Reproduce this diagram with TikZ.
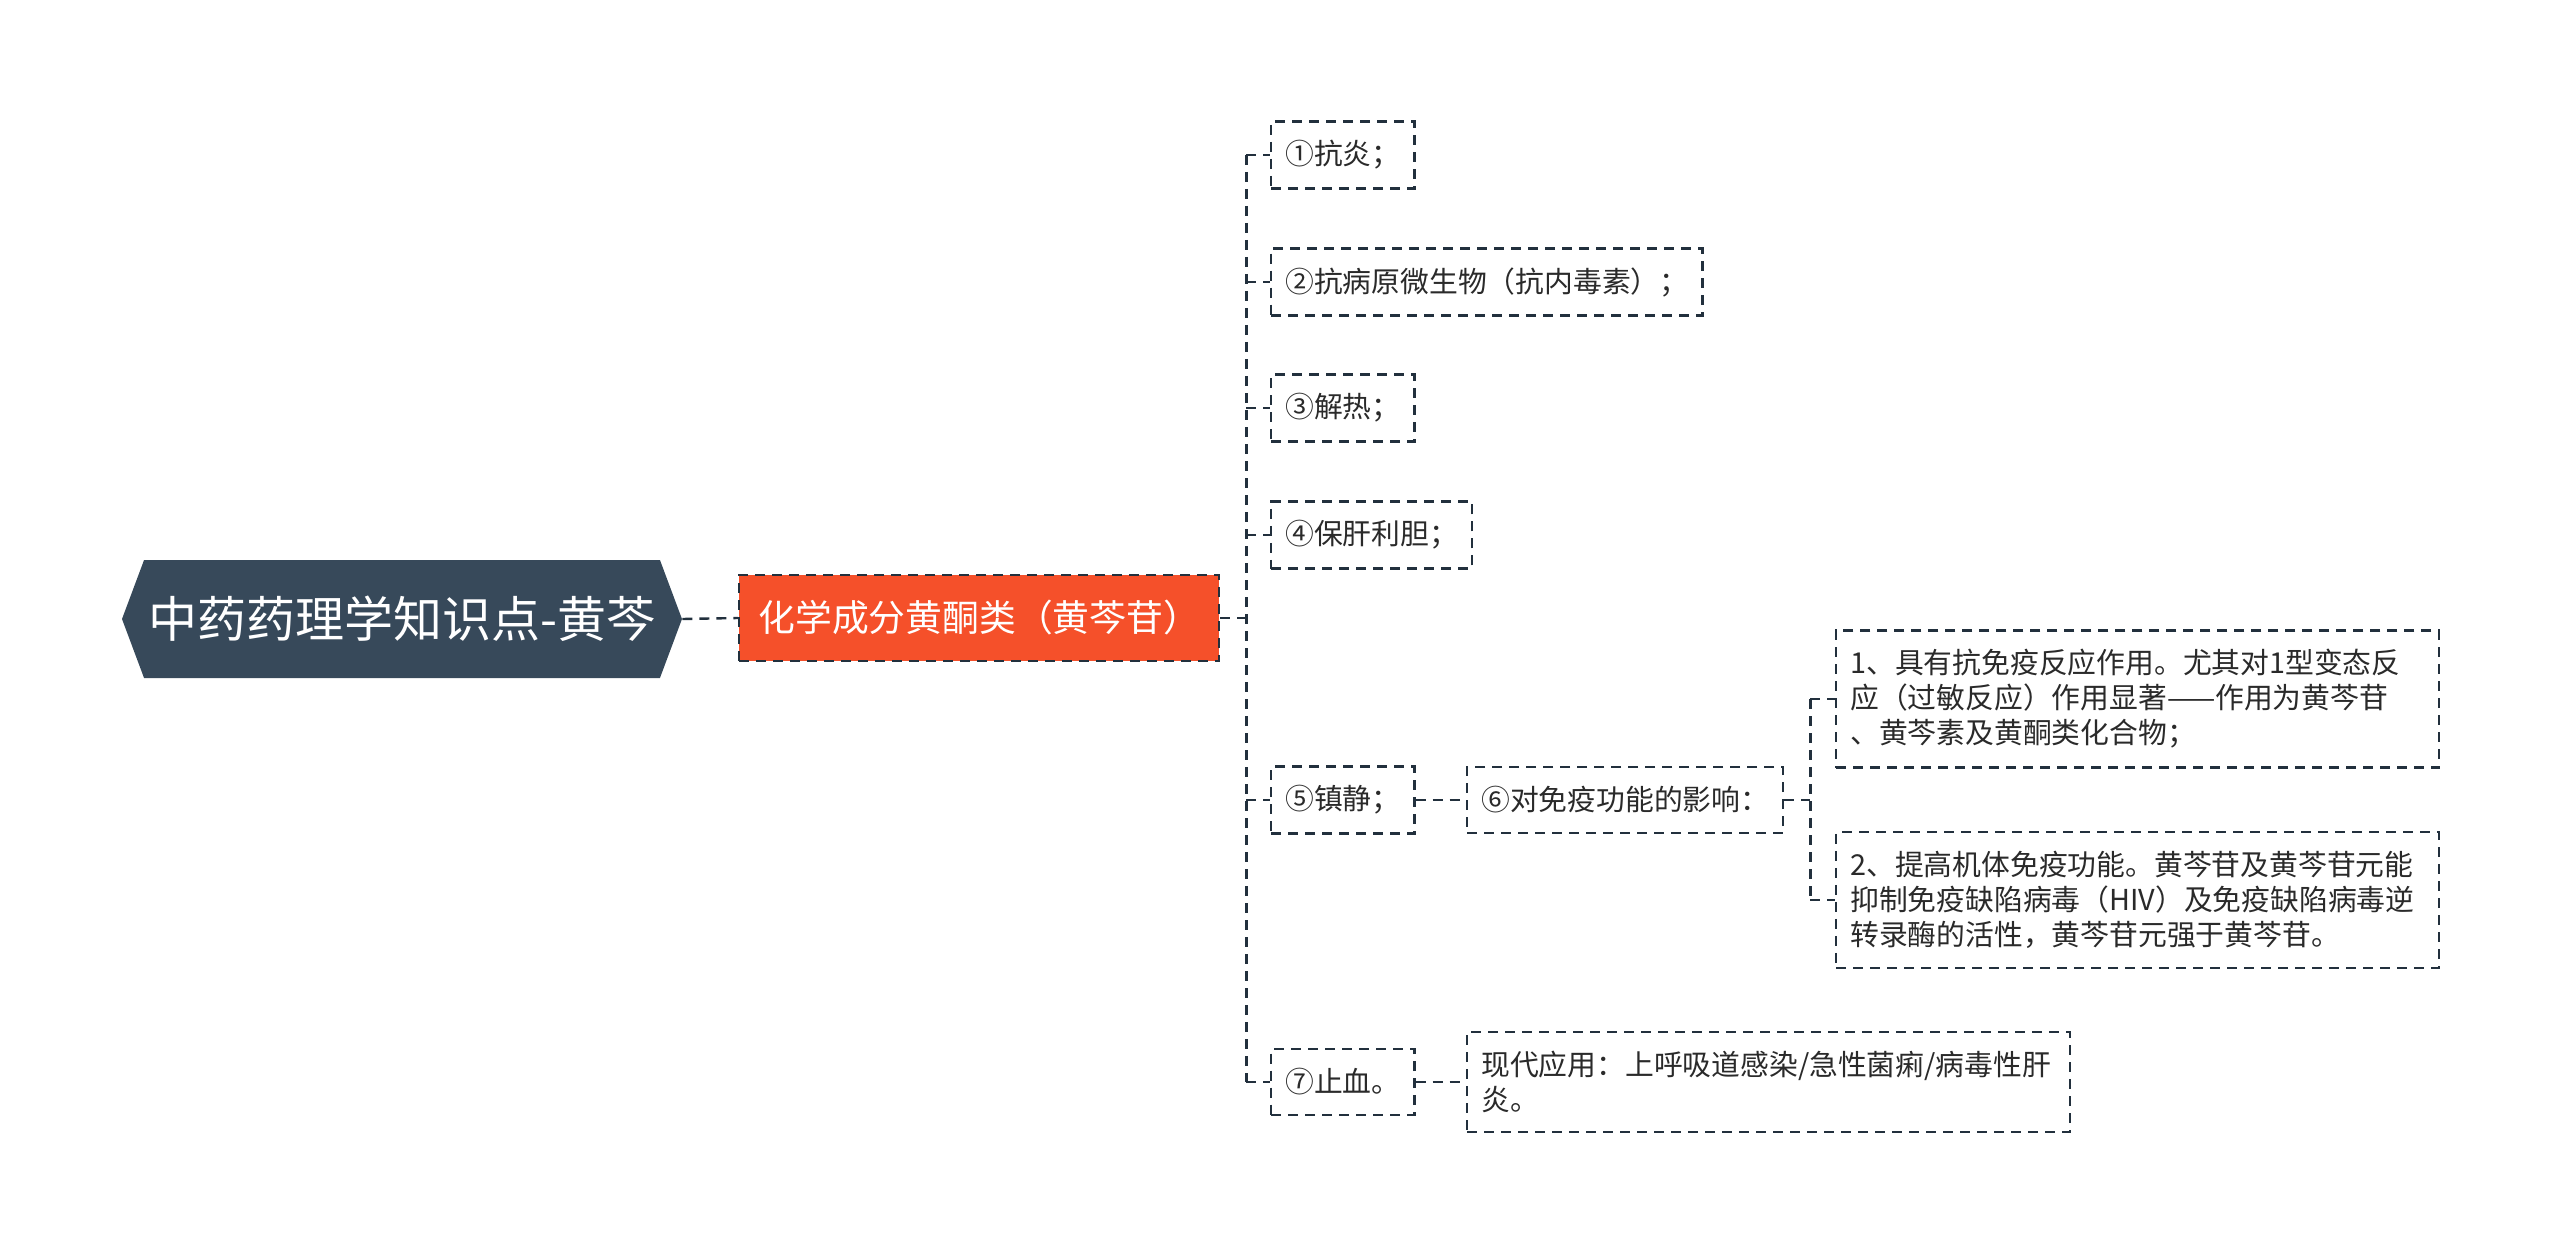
\documentclass[tikz,border=0pt]{standalone}
\usepackage{fontspec}
\setmainfont{Noto Sans CJK SC}
\usepackage{xcolor}
\usepackage{tikz}
\usetikzlibrary{positioning,shapes.symbols}
\definecolor{ink}{HTML}{22303D}
\definecolor{rootc}{HTML}{37495A}
\definecolor{flame}{HTML}{F5502A}
\definecolor{txt}{HTML}{2A2A2A}
\tikzset{
  tbox/.style={draw=ink,dash pattern=on 5pt off 3.5pt,line width=1.2pt,fill=white,text=txt,align=left,
    font=\fontsize{14.4}{17.5}\selectfont,inner xsep=7pt,inner ysep=9.5pt,minimum height=33pt},
  tboxw/.style={tbox,text width=287.5pt},
  rootnode/.style={signal,signal to=west and east,signal pointer angle=139,fill=rootc,text=white,
    font=\fontsize{24.5}{29}\selectfont,minimum width=280pt,minimum height=59pt,inner xsep=0pt},
  chembox/.style={tbox,fill=flame,text=white,font=\fontsize{18.4}{22}\selectfont,minimum height=43pt,inner xsep=9.6pt},
  lnk/.style={draw=ink,dash pattern=on 5pt off 3.5pt,line width=1.2pt},
}
\begin{document}
\begin{tikzpicture}[x=0.5pt,y=-0.5pt]
\useasboundingbox (0,0) rectangle (2560,1257);
% root and first level
\node[rootnode] (root) at (402,619) {中药药理学知识点-黄芩};
\node[chembox,anchor=west] (chem) at (738,618) {化学成分黄酮类（黄芩苷）};
% effects
\node[tbox,anchor=west] (e1) at (1270,155) {①抗炎；};
\node[tbox,anchor=west] (e2) at (1270,282) {②抗病原微生物（抗内毒素）；};
\node[tbox,anchor=west] (e3) at (1270,408) {③解热；};
\node[tbox,anchor=west] (e4) at (1270,535) {④保肝利胆；};
\node[tbox,anchor=west] (e5) at (1270,800) {⑤镇静；};
\node[tbox,anchor=west] (e7) at (1270,1082) {⑦止血。};
\node[tbox,anchor=west] (e6) at (1466,800) {⑥对免疫功能的影响：};
\node[tboxw,anchor=west] (use) at (1466,1082) {现代应用：上呼吸道感染/急性菌痢/病毒性肝\\炎。};
% immune details
\node[tboxw,anchor=west] (m1) at (1835,699) {1、具有抗免疫反应作用。尤其对1型变态反\\应（过敏反应）作用显著——作用为黄芩苷\\、黄芩素及黄酮类化合物；};
\node[tboxw,anchor=west] (m2) at (1835,900) {2、提高机体免疫功能。黄芩苷及黄芩苷元能\\抑制免疫缺陷病毒（HIV）及免疫缺陷病毒逆\\转录酶的活性，黄芩苷元强于黄芩苷。};
% connectors
\coordinate[right=13pt of chem.east] (j1);
\coordinate[right=13pt of e6.east] (j2);
\draw[lnk] (root.east) -- (chem.west);
\draw[lnk] (chem.east) -- (j1);
\draw[lnk] (j1 |- e1.west) -- (j1 |- e7.west);
\draw[lnk] (j1 |- e1.west) -- (e1.west);\draw[lnk] (j1 |- e2.west) -- (e2.west);\draw[lnk] (j1 |- e3.west) -- (e3.west);
\draw[lnk] (j1 |- e4.west) -- (e4.west);\draw[lnk] (j1 |- e5.west) -- (e5.west);\draw[lnk] (j1 |- e7.west) -- (e7.west);
\draw[lnk] (e5.east) -- (e6.west);
\draw[lnk] (e7.east) -- (use.west);
\draw[lnk] (e6.east) -- (j2);
\draw[lnk] (j2 |- m1.west) -- (j2 |- m2.west);
\draw[lnk] (j2 |- m1.west) -- (m1.west);\draw[lnk] (j2 |- m2.west) -- (m2.west);
\end{tikzpicture}
\end{document}
